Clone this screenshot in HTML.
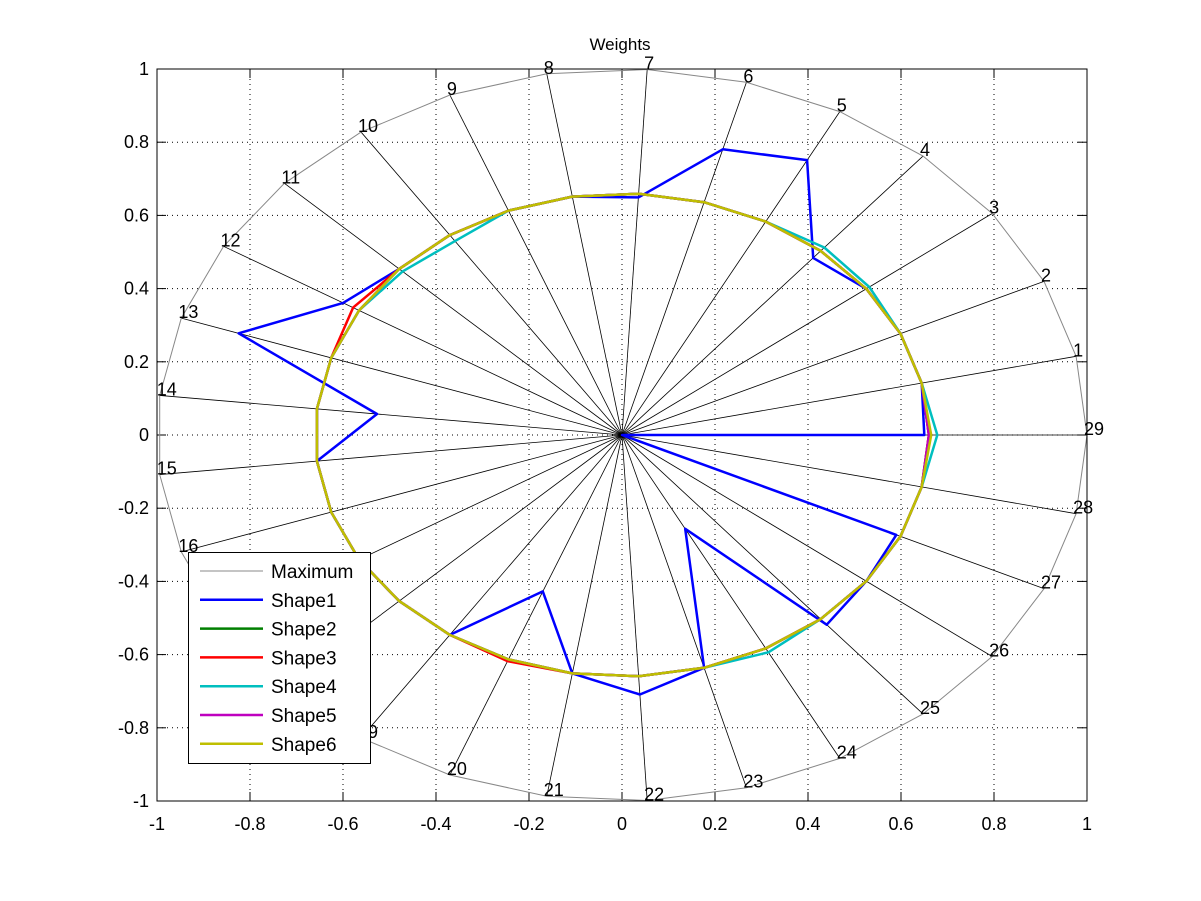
<!DOCTYPE html>
<html><head><meta charset="utf-8"><style>
html,body{margin:0;padding:0;background:#fff;}
svg{display:block;font-family:"Liberation Sans",Arial,sans-serif;}
</style></head><body>
<svg id="s" width="1201" height="901" xmlns="http://www.w3.org/2000/svg"></svg>
<script>
const s=document.getElementById('s');
const X0=157,X1=1087,Y0=69,Y1=801,cx=622,cy=435,sx=465,sy=366;
let h='<rect width="1201" height="901" fill="#fff"/>';
for(let i=0;i<=10;i++){const v=-1+i*0.2;const px=cx+v*sx,py=cy-v*sy;
 h+=`<line x1="${px}" y1="${Y0}" x2="${px}" y2="${Y1}" stroke="#000" stroke-width="1" stroke-dasharray="1,4"/>`;
 h+=`<line x1="${X0}" y1="${py}" x2="${X1}" y2="${py}" stroke="#000" stroke-width="1" stroke-dasharray="1,4"/>`;
 const lab=(Math.abs(v)<1e-9?'0':(+v.toFixed(1)).toString());
 h+=`<text x="${px}" y="830" font-size="18" text-anchor="middle">${lab}</text>`;
 h+=`<text x="149" y="${py+6}" font-size="18" text-anchor="end">${lab}</text>`;
 h+=`<line x1="${px}" y1="${Y1}" x2="${px}" y2="${Y1-9}" stroke="#000"/><line x1="${px}" y1="${Y0}" x2="${px}" y2="${Y0+9}" stroke="#000"/>`;
 h+=`<line x1="${X0}" y1="${py}" x2="${X0+9}" y2="${py}" stroke="#000"/><line x1="${X1}" y1="${py}" x2="${X1-9}" y2="${py}" stroke="#000"/>`;
}
const N=29,P=(k,r)=>{const a=k*2*Math.PI/N;return [cx+r*Math.cos(a)*sx,cy-r*Math.sin(a)*sy];};
let mx=[];
for(let k=1;k<=N;k++){const [x,y]=P(k,1);mx.push(x.toFixed(1)+','+y.toFixed(1));
 h+=`<line x1="${cx}" y1="${cy}" x2="${x}" y2="${y}" stroke="#000" stroke-width="0.8"/>`;}
mx.push(mx[0]);
h+=`<polyline points="${mx.join(' ')}" fill="none" stroke="#888" stroke-width="1"/>`;
for(let k=1;k<=N;k++){const [x,y]=P(k,1);h+=`<text x="${x-3}" y="${y}" font-size="18">${k}</text>`;}
function poly(r,c){let p=[];for(let k=1;k<=N;k++){const [x,y]=P(k,r[k-1]);p.push(x.toFixed(1)+','+y.toFixed(1));}p.push(p[0]);
 return `<polyline points="${p.join(' ')}" fill="none" stroke="${c}" stroke-width="2.5" stroke-linejoin="round"/>`;}
const base=()=>Array(N).fill(0.66);
let s1=base();Object.assign(s1,{0:0.66,3:0.635,4:0.85,5:0.81,6:0.65,11:0.70,12:0.87,13:0.53,19:0.46,21:0.71,23:0.29,24:0.68,26:0.65,27:0,28:0.65});
let s2=base(),s3=base();s3[11]=0.675;s3[19]=0.665;
let s4=base();s4[28]=0.678;s4[3]=0.672;s4[2]=0.668;s4[9]=0.64;s4[10]=0.65;s4[23]=0.672;
let s5=base(),s6=base();s6[28]=0.665;
h+=poly(s1,'#0000ff')+poly(s2,'#007f00')+poly(s3,'#ff0000')+poly(s4,'#00bfbf')+poly(s5,'#bf00bf')+poly(s6,'#bfbf00');
h+=`<rect x="${X0}" y="${Y0}" width="${X1-X0}" height="${Y1-Y0}" fill="none" stroke="#000" stroke-width="1"/>`;
h+=`<text x="620" y="50" font-size="17" text-anchor="middle">Weights</text>`;
h+=`<rect x="188.5" y="552.5" width="182" height="211" fill="#fff" stroke="#000"/>`;
const L=[['Maximum','#888',1],['Shape1','#0000ff',2.5],['Shape2','#007f00',2.5],['Shape3','#ff0000',2.5],['Shape4','#00bfbf',2.5],['Shape5','#bf00bf',2.5],['Shape6','#bfbf00',2.5]];
L.forEach((e,i)=>{const y=571+i*28.8;h+=`<line x1="200" y1="${y}" x2="263" y2="${y}" stroke="${e[1]}" stroke-width="${e[2]}"/><text x="271" y="${y+7}" font-size="19">${e[0]}</text>`;});
s.innerHTML=h;
</script>
</body></html>
